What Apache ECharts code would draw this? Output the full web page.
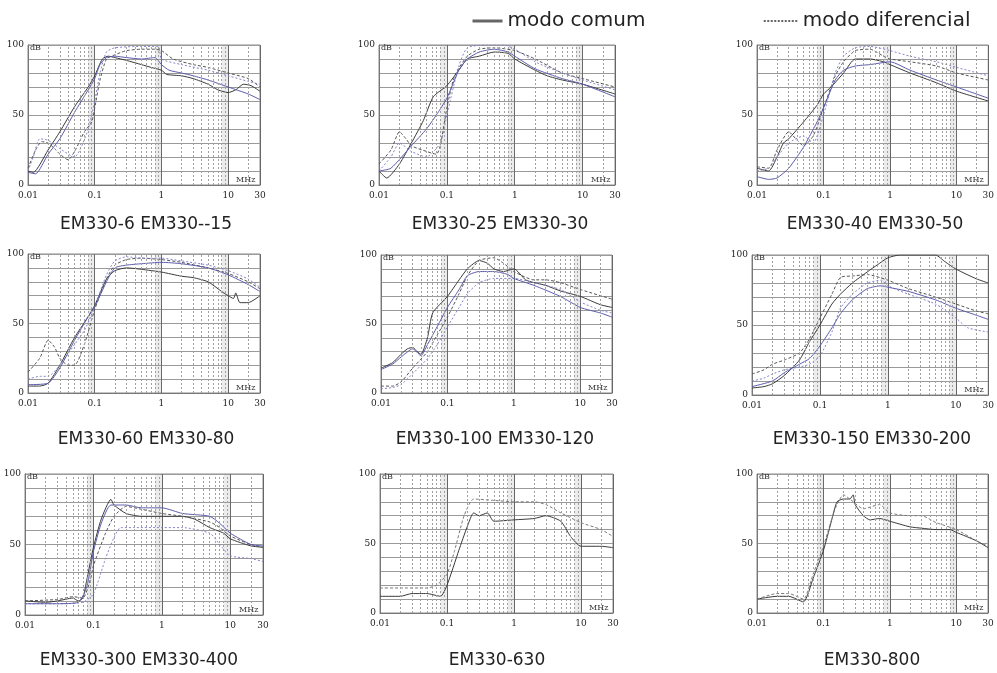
<!DOCTYPE html>
<html>
<head>
<meta charset="utf-8">
<script src="https://cdn.jsdelivr.net/npm/echarts@6/dist/echarts.min.js"></script>
<style>
  html, body { margin: 0; background: #fff; }
  #chart { width: 997px; height: 673px; }
</style>
</head>
<body>
<div id="chart"></div>
<script>
// grade: linhas verticais secundarias (MHz) e faixas escuras antes de cada decada
const minorLines = [0.02, 0.03, 0.04, 0.05, 0.06, 0.07, 0.08, 0.09,
  0.2, 0.3, 0.4, 0.5, 0.6, 0.7, 0.8, 0.9,
  2, 3, 4, 5, 6, 7, 8, 9, 20];
const shadeBands = [[0.08, 0.1], [0.8, 1], [8, 10]];
const yLabels = [0, 50, 100];

// EM330-6 EM330--15
const p1Comum1 = [[0.01,10],[0.012,9],[0.02,25],[0.03,38],[0.05,56],[0.08,70],[0.1,78],[0.13,90],[0.16,92],[0.2,91],[0.3,89],[0.5,86],[0.7,84],[1,82],[1.2,79],[2,78],[3,76],[5,72],[7,68],[10,66],[13,68],[17,72],[22,71],[30,67]];
const p1Comum2 = [[0.01,9],[0.013,8],[0.02,22],[0.03,33],[0.05,52],[0.08,68],[0.1,76],[0.12,86],[0.15,91],[0.2,92],[0.3,91],[0.5,90],[0.8,91],[1,86],[1.3,82],[2,80],[3,78],[5,75],[10,70],[20,65],[30,61]];
const p1Dif1 = [[0.01,12],[0.013,25],[0.016,31],[0.02,30],[0.025,26],[0.03,22],[0.04,18],[0.05,24],[0.07,38],[0.09,45],[0.1,55],[0.12,75],[0.15,90],[0.2,93],[0.3,96],[0.5,97],[0.8,97],[1,96],[1.5,90],[3,86],[5,84],[10,80],[20,76],[30,70]];
const p1Dif2 = [[0.01,10],[0.012,20],[0.015,33],[0.02,32],[0.03,26],[0.05,20],[0.06,25],[0.08,40],[0.1,60],[0.12,80],[0.15,95],[0.2,98],[0.5,99],[0.9,99],[1,90],[2,86],[5,82],[10,78],[20,74],[30,72]];

// EM330-25 EM330-30
const p2Comum1 = [[0.01,10],[0.013,5],[0.02,15],[0.03,30],[0.045,46],[0.063,63],[0.1,71],[0.15,82],[0.2,90],[0.3,92],[0.5,95],[0.8,94],[1,90],[2,82],[3,78],[5,75],[10,72],[30,65]];
const p2Comum2 = [[0.01,10],[0.015,12],[0.03,28],[0.05,40],[0.07,50],[0.1,62],[0.15,82],[0.2,90],[0.3,95],[0.5,97],[0.8,95],[1,92],[2,83],[5,76],[10,72],[30,63]];
const p2Dif1 = [[0.01,15],[0.015,25],[0.02,38],[0.025,33],[0.03,28],[0.05,24],[0.07,22],[0.08,28],[0.1,55],[0.13,78],[0.2,92],[0.3,97],[0.5,98],[1,96],[2,90],[5,80],[10,76],[30,70]];
const p2Dif2 = [[0.01,10],[0.015,20],[0.02,30],[0.03,24],[0.05,20],[0.08,30],[0.1,50],[0.15,85],[0.2,98],[0.4,100],[0.7,100],[1,97],[2,88],[5,80],[10,75],[30,68]];

// EM330-40 EM330-50
const p3Comum1 = [[0.01,12],[0.015,10],[0.02,20],[0.025,30],[0.03,33],[0.05,45],[0.08,57],[0.1,65],[0.13,70],[0.2,80],[0.3,90],[0.5,90],[0.8,88],[1,86],[2,80],[5,73],[10,67],[30,60]];
const p3Comum2 = [[0.01,6],[0.015,4],[0.02,5],[0.03,12],[0.05,27],[0.08,45],[0.1,55],[0.15,75],[0.2,82],[0.3,85],[0.5,86],[1,88],[2,82],[5,75],[10,70],[30,62]];
const p3Dif1 = [[0.01,13],[0.015,12],[0.02,25],[0.03,38],[0.04,32],[0.05,28],[0.07,35],[0.1,55],[0.15,78],[0.2,88],[0.3,96],[0.5,97],[0.8,92],[1,90],[2,88],[5,85],[10,80],[30,75]];
const p3Dif2 = [[0.01,10],[0.015,12],[0.02,20],[0.03,30],[0.05,35],[0.07,30],[0.1,50],[0.15,80],[0.2,92],[0.3,98],[0.5,99],[1,96],[2,92],[5,88],[10,84],[30,78]];

// EM330-60 EM330-80
const p4Comum1 = [[0.01,5],[0.015,5],[0.02,7],[0.03,20],[0.05,40],[0.08,55],[0.1,63],[0.15,82],[0.2,88],[0.3,90],[0.5,89],[1,87],[2,84],[3,83],[5,80],[8,73],[10,70],[12,68],[13,72],[15,65],[20,65],[30,70]];
const p4Comum2 = [[0.01,6],[0.02,7],[0.03,18],[0.05,38],[0.08,55],[0.1,62],[0.15,80],[0.2,90],[0.3,92],[0.5,93],[1,94],[2,93],[5,90],[10,85],[20,78],[30,73]];
const p4Dif1 = [[0.01,15],[0.015,25],[0.02,38],[0.025,33],[0.03,25],[0.04,20],[0.05,20],[0.07,35],[0.1,60],[0.15,82],[0.2,92],[0.3,96],[0.5,97],[1,96],[2,94],[5,90],[10,86],[20,80],[30,75]];
const p4Dif2 = [[0.01,10],[0.015,12],[0.02,12],[0.03,20],[0.05,35],[0.07,45],[0.1,62],[0.15,85],[0.2,95],[0.3,98],[0.5,97],[1,97],[2,95],[5,92],[10,88],[20,82],[30,76]];

// EM330-100 EM330-120
const p5Comum1 = [[0.01,18],[0.015,22],[0.02,28],[0.025,32],[0.03,33],[0.035,30],[0.04,28],[0.05,40],[0.06,58],[0.1,70],[0.15,82],[0.2,90],[0.3,96],[0.4,94],[0.5,90],[0.7,88],[1,90],[1.5,82],[2,80],[3,78],[5,74],[10,70],[20,64],[30,62]];
const p5Comum2 = [[0.01,17],[0.015,21],[0.02,26],[0.03,32],[0.04,27],[0.05,35],[0.07,48],[0.1,62],[0.15,75],[0.2,85],[0.3,88],[0.5,88],[0.8,86],[1,83],[2,78],[5,70],[10,62],[20,58],[30,55]];
const p5Dif1 = [[0.01,5],[0.015,5],[0.02,8],[0.03,18],[0.05,30],[0.07,42],[0.1,55],[0.15,72],[0.2,85],[0.3,96],[0.5,98],[0.7,94],[1,88],[2,82],[3,82],[5,80],[10,75],[30,68]];
const p5Dif2 = [[0.01,3],[0.015,4],[0.02,6],[0.03,14],[0.05,25],[0.07,35],[0.1,48],[0.15,62],[0.2,72],[0.3,80],[0.5,83],[1,83],[2,80],[5,75],[10,66],[20,60],[30,58]];

// EM330-150 EM330-200
const p6Comum1 = [[0.01,5],[0.015,6],[0.02,8],[0.03,14],[0.05,25],[0.07,38],[0.1,50],[0.15,65],[0.2,72],[0.3,80],[0.5,88],[0.7,93],[1,98],[1.5,100],[3,100],[5,100],[7,95],[10,90],[20,83],[30,80]];
const p6Comum2 = [[0.01,6],[0.02,10],[0.03,16],[0.05,22],[0.07,26],[0.1,35],[0.15,48],[0.2,58],[0.3,68],[0.5,76],[0.8,78],[1,77],[2,74],[5,68],[10,62],[20,57],[30,54]];
const p6Dif1 = [[0.01,15],[0.015,18],[0.02,22],[0.03,25],[0.05,30],[0.07,40],[0.1,55],[0.15,72],[0.2,84],[0.3,85],[0.5,86],[1,82],[2,76],[5,70],[10,65],[20,60],[30,58]];
const p6Dif2 = [[0.01,10],[0.015,12],[0.02,15],[0.03,18],[0.05,20],[0.07,22],[0.1,28],[0.15,45],[0.2,62],[0.3,72],[0.5,80],[0.8,82],[1,78],[2,72],[5,65],[10,55],[15,48],[30,45]];

// EM330-300 EM330-400
const p7Comum1 = [[0.01,10],[0.02,9],[0.03,10],[0.05,12],[0.06,10],[0.07,12],[0.08,25],[0.1,48],[0.13,68],[0.18,82],[0.2,78],[0.3,72],[0.5,70],[1,70],[2,70],[3,68],[5,62],[8,58],[10,54],[20,49],[30,48]];
const p7Comum2 = [[0.01,8],[0.03,8],[0.06,9],[0.08,20],[0.1,45],[0.13,65],[0.18,78],[0.3,78],[0.5,76],[1,76],[2,72],[5,70],[7,65],[10,58],[20,50],[30,49]];
const p7Dif1 = [[0.01,10],[0.03,11],[0.05,13],[0.07,12],[0.09,25],[0.1,35],[0.15,58],[0.2,70],[0.3,77],[0.5,75],[1,72],[2,70],[5,66],[7,62],[10,56],[20,50],[30,48]];
const p7Dif2 = [[0.01,8],[0.03,8],[0.07,9],[0.1,15],[0.15,40],[0.2,55],[0.25,62],[0.4,62],[1,62],[2,62],[5,58],[7,50],[10,42],[20,40],[30,38]];

// EM330-630
const p8Comum = [[0.01,12],[0.02,12],[0.03,14],[0.05,14],[0.08,12],[0.1,20],[0.15,45],[0.2,62],[0.25,72],[0.3,70],[0.4,72],[0.5,66],[1,67],[2,68],[3,70],[5,66],[7,55],[10,48],[20,48],[30,47]];
const p8Dif = [[0.01,18],[0.02,18],[0.05,18],[0.07,20],[0.1,28],[0.13,45],[0.18,70],[0.25,82],[0.5,81],[1,80],[2,80],[3,78],[5,72],[10,65],[20,60],[30,55]];

// EM330-800
const p9Comum = [[0.01,10],[0.02,12],[0.03,12],[0.05,8],[0.07,25],[0.1,45],[0.13,65],[0.16,80],[0.2,82],[0.25,82],[0.28,85],[0.3,78],[0.4,70],[0.5,67],[0.7,68],[1,66],[2,62],[3,61],[5,60],[8,60],[10,58],[20,52],[30,47]];
const p9Dif = [[0.01,10],[0.02,14],[0.03,14],[0.05,10],[0.07,28],[0.1,48],[0.15,75],[0.2,85],[0.25,82],[0.4,75],[0.7,78],[1,72],[2,70],[3,70],[5,65],[10,60],[20,52],[30,48]];

const styles = {
  cmDark: { name: 'modo comum', color: '#3a3a3a', type: 'solid' },
  cmBlue: { name: 'modo comum', color: '#5c5cae', type: 'solid' },
  dmDark: { name: 'modo diferencial', color: '#555555', type: [3, 2] },
  dmBlue: { name: 'modo diferencial', color: '#8585cc', type: [2, 2] },
  dmGray: { name: 'modo diferencial', color: '#7a7a7a', type: [3, 2] }
};

const panels = [
  { title: 'EM330-6 EM330--15', rect: [28, 45, 232, 140], cx: 146, ty: 225,
    lines: [[p1Comum1, 'cmDark'], [p1Dif1, 'dmDark'], [p1Dif2, 'dmBlue'], [p1Comum2, 'cmBlue']] },
  { title: 'EM330-25 EM330-30', rect: [379, 45, 236, 140], cx: 500, ty: 225,
    lines: [[p2Comum1, 'cmDark'], [p2Dif1, 'dmDark'], [p2Dif2, 'dmBlue'], [p2Comum2, 'cmBlue']] },
  { title: 'EM330-40 EM330-50', rect: [757, 45, 233, 140], cx: 875, ty: 225,
    lines: [[p3Comum1, 'cmDark'], [p3Dif1, 'dmDark'], [p3Dif2, 'dmBlue'], [p3Comum2, 'cmBlue']] },
  { title: 'EM330-60 EM330-80', rect: [28, 254, 232, 139], cx: 146, ty: 440,
    lines: [[p4Comum1, 'cmDark'], [p4Dif1, 'dmDark'], [p4Dif2, 'dmBlue'], [p4Comum2, 'cmBlue']] },
  { title: 'EM330-100 EM330-120', rect: [381, 255, 231, 138], cx: 495, ty: 440,
    lines: [[p5Comum1, 'cmDark'], [p5Dif1, 'dmDark'], [p5Dif2, 'dmBlue'], [p5Comum2, 'cmBlue']] },
  { title: 'EM330-150 EM330-200', rect: [752, 255, 243, 140], cx: 872, ty: 440,
    lines: [[p6Comum1, 'cmDark'], [p6Dif1, 'dmDark'], [p6Dif2, 'dmBlue'], [p6Comum2, 'cmBlue']] },
  { title: 'EM330-300 EM330-400', rect: [25, 474, 238, 141], cx: 139, ty: 661,
    lines: [[p7Comum1, 'cmDark'], [p7Dif1, 'dmDark'], [p7Dif2, 'dmBlue'], [p7Comum2, 'cmBlue']] },
  { title: 'EM330-630', rect: [380, 474, 233, 139], cx: 497, ty: 661,
    lines: [[p8Comum, 'cmDark'], [p8Dif, 'dmGray']] },
  { title: 'EM330-800', rect: [757, 474, 231, 139], cx: 872, ty: 661,
    lines: [[p9Comum, 'cmDark'], [p9Dif, 'dmGray']] }
];

const tickFont = 'DejaVu Serif';
const grid = [], xAxis = [], yAxis = [], series = [], graphic = [];

panels.forEach((p, i) => {
  grid.push({ left: p.rect[0], top: p.rect[1], width: p.rect[2], height: p.rect[3],
    show: true, borderColor: '#8a8a8a', borderWidth: 1 });
  xAxis.push({
    type: 'log', gridIndex: i, min: 0.01, max: 30, logBase: 10,
    name: 'MHz', nameLocation: 'end', nameGap: -24,
    nameTextStyle: { fontFamily: tickFont, fontSize: 8, color: '#333', align: 'left', verticalAlign: 'bottom', padding: [0, 0, 1, 0] },
    axisLine: { lineStyle: { color: '#777' } },
    axisTick: { show: false },
    axisLabel: { fontFamily: tickFont, fontSize: 9, color: '#222', margin: 6,
      formatter: v => String(+(+v).toPrecision(2)) },
    splitLine: { show: true, lineStyle: { color: '#666', width: 1 } }
  });
  yAxis.push({
    type: 'value', gridIndex: i, min: 0, max: 100, interval: 10,
    name: 'dB', nameLocation: 'end', nameGap: -7,
    nameTextStyle: { fontFamily: tickFont, fontSize: 8, color: '#333', align: 'left', padding: [0, 0, 0, 2] },
    axisLine: { show: true, lineStyle: { color: '#777' } },
    axisTick: { show: false },
    axisLabel: { fontFamily: tickFont, fontSize: 9, color: '#222', margin: 4,
      formatter: v => (yLabels.indexOf(v) >= 0 ? String(v) : '') },
    splitLine: { show: true, lineStyle: { color: '#9a9a9a', width: 1 } }
  });

  p.lines.forEach(([data, key], j) => {
    const st = styles[key];
    const s = {
      name: st.name, type: 'line', xAxisIndex: i, yAxisIndex: i,
      data: data, symbol: 'none', smooth: 0.2, silent: true,
      lineStyle: { color: st.color, width: 1, type: st.type },
      itemStyle: { color: st.color }
    };
    if (j === 0) {
      s.markLine = {
        silent: true, symbol: ['none', 'none'], label: { show: false },
        lineStyle: { color: '#a0a0a0', width: 1, type: [2, 2] },
        data: minorLines.map(v => ({ xAxis: v }))
      };
      s.markArea = {
        silent: true, itemStyle: { color: 'rgba(150,150,150,0.18)' },
        data: shadeBands.map(b => [{ xAxis: b[0] }, { xAxis: b[1] }])
      };
    }
    series.push(s);
  });

  graphic.push({ type: 'text', x: p.cx, y: p.ty,
    style: { text: p.title, fontFamily: 'DejaVu Sans', fontSize: 17, fill: '#222',
      align: 'center', verticalAlign: 'middle' } });
});

const legendText = { fontFamily: 'DejaVu Sans', fontSize: 20, color: '#222' };
const option = {
  animation: false,
  backgroundColor: '#fff',
  legend: [
    { left: 466, top: 6, itemWidth: 30, itemHeight: 14, textStyle: legendText, selectedMode: false,
      data: [{ name: 'modo comum', itemStyle: { opacity: 0 },
        lineStyle: { color: '#666', width: 3, type: 'solid' } }] },
    { left: 758, top: 6, itemWidth: 34, itemHeight: 14, textStyle: legendText, selectedMode: false,
      data: [{ name: 'modo diferencial', itemStyle: { opacity: 0 },
        lineStyle: { color: '#333', width: 1.5, type: [2, 1.5] } }] }
  ],
  grid, xAxis, yAxis, series, graphic
};

echarts.init(document.getElementById('chart')).setOption(option);
</script>
</body>
</html>
